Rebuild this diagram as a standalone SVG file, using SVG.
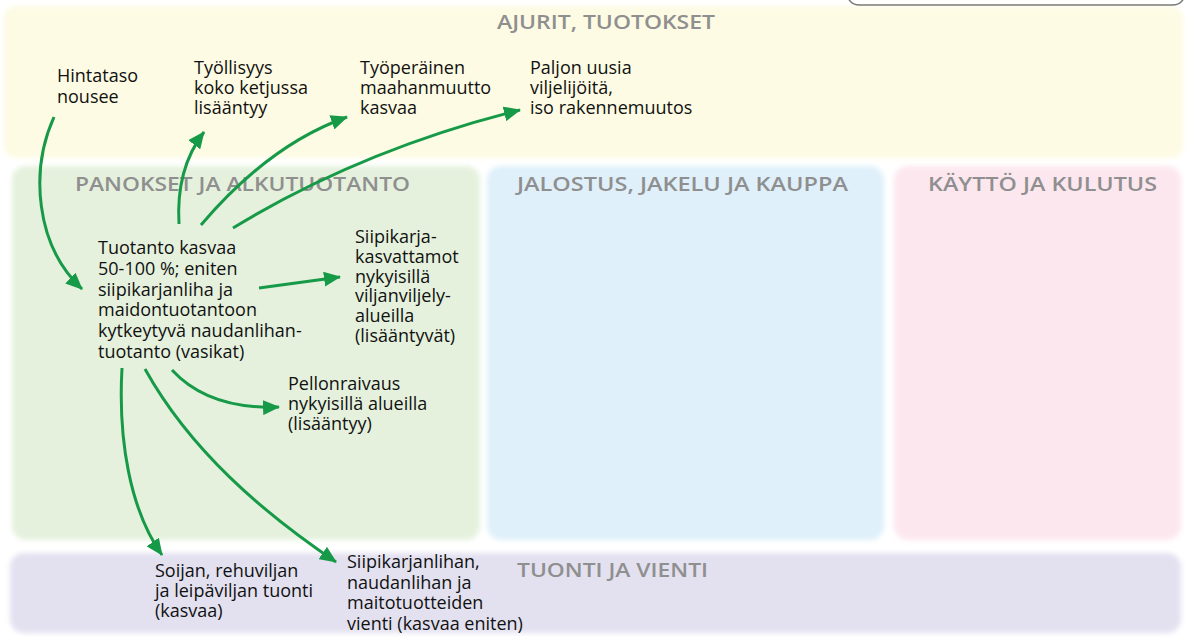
<svg xmlns="http://www.w3.org/2000/svg" width="1187" height="637" viewBox="0 0 1187 637">
  <defs>
    <filter id="soft" x="-5%" y="-5%" width="110%" height="110%">
      <feGaussianBlur stdDeviation="2.5"/>
    </filter>
    <marker id="head" viewBox="0 0 17 15" markerWidth="17" markerHeight="15" refX="16" refY="7.5" orient="auto" markerUnits="userSpaceOnUse">
      <path d="M0,0 L17,7.5 L0,15 z" fill="#179a48"/>
    </marker>
    <style>
      .band { filter: url(#soft); }
      .hdr { font-family: "Open Sans", "Liberation Sans", sans-serif; font-weight: 600; font-size: 20px; fill: #8f8f8f; }
      .lbl { font-family: "Open Sans", "Liberation Sans", sans-serif; font-size: 18px; fill: #111111; }
      .arrow { fill: none; stroke: #179a48; stroke-width: 3; marker-end: url(#head); }
    </style>
  </defs>

  <rect width="1187" height="637" fill="#ffffff"/>

  <!-- swimlane backgrounds -->
  <g id="lanes">
    <rect class="band" x="4" y="6" width="1179" height="152" rx="12" fill="#fdfbe3"/>
    <rect class="band" x="12" y="166" width="468" height="374" rx="14" fill="#e5f1dd"/>
    <rect class="band" x="487" y="166" width="397" height="374" rx="14" fill="#dff0fa"/>
    <rect class="band" x="894" y="166" width="287" height="374" rx="14" fill="#fde7ef"/>
    <rect class="band" x="10" y="553" width="1171" height="80" rx="14" fill="#e3e1f0"/>
    <rect x="847" y="-30" width="338" height="35" rx="12" fill="none" stroke="#7a7a7a" stroke-width="1.5"/>
  </g>

  <!-- lane titles -->
  <g id="titles">
    <text class="hdr" x="497" y="29" textLength="218" lengthAdjust="spacingAndGlyphs">AJURIT, TUOTOKSET</text>
    <text class="hdr" x="75" y="191" textLength="335" lengthAdjust="spacingAndGlyphs">PANOKSET JA ALKUTUOTANTO</text>
    <text class="hdr" x="517" y="191" textLength="331" lengthAdjust="spacingAndGlyphs">JALOSTUS, JAKELU JA KAUPPA</text>
    <text class="hdr" x="928" y="191" textLength="229" lengthAdjust="spacingAndGlyphs">KÄYTTÖ JA KULUTUS</text>
    <text class="hdr" x="517" y="577" textLength="191" lengthAdjust="spacingAndGlyphs">TUONTI JA VIENTI</text>
  </g>

  <!-- connectors -->
  <g id="connectors">
    <path class="arrow" d="M54 117 C30 170, 35 245, 82 289"/>
    <path class="arrow" d="M179 224 C177 190, 184 158, 204 132"/>
    <path class="arrow" d="M201 225 C235 185, 282 140, 347 117"/>
    <path class="arrow" d="M233 228 C320 175, 420 135, 520 110"/>
    <path class="arrow" d="M259 288 L340 277"/>
    <path class="arrow" d="M172 370 C195 395, 228 409, 279 407"/>
    <path class="arrow" d="M122 368 C118 440, 130 510, 162 555"/>
    <path class="arrow" d="M145 369 C190 450, 262 512, 336 562"/>
  </g>

  <!-- nodes -->
  <g id="hintataso">
    <text class="lbl" x="57" y="82"><tspan x="57">Hintataso</tspan><tspan x="57" dy="21">nousee</tspan></text>
  </g>
  <g id="tyollisyys">
    <text class="lbl" x="194" y="74"><tspan x="194">Työllisyys</tspan><tspan x="194" dy="20">koko ketjussa</tspan><tspan x="194" dy="20">lisääntyy</tspan></text>
  </g>
  <g id="maahanmuutto">
    <text class="lbl" x="360" y="74"><tspan x="360">Työperäinen</tspan><tspan x="360" dy="20">maahanmuutto</tspan><tspan x="360" dy="20">kasvaa</tspan></text>
  </g>
  <g id="rakennemuutos">
    <text class="lbl" x="530" y="74"><tspan x="530">Paljon uusia</tspan><tspan x="530" dy="20">viljelijöitä,</tspan><tspan x="530" dy="20">iso rakennemuutos</tspan></text>
  </g>
  <g id="tuotanto">
    <text class="lbl" x="98" y="254"><tspan x="98">Tuotanto kasvaa</tspan><tspan x="98" dy="20.8">50-100 %; eniten</tspan><tspan x="98" dy="20.8">siipikarjanliha ja</tspan><tspan x="98" dy="20.8">maidontuotantoon</tspan><tspan x="98" dy="20.8">kytkeytyvä naudanlihan-</tspan><tspan x="98" dy="20.8">tuotanto (vasikat)</tspan></text>
  </g>
  <g id="kasvattamot">
    <text class="lbl" x="355" y="243"><tspan x="355">Siipikarja-</tspan><tspan x="355" dy="19.8">kasvattamot</tspan><tspan x="355" dy="19.8">nykyisillä</tspan><tspan x="355" dy="19.8">viljanviljely-</tspan><tspan x="355" dy="19.8">alueilla</tspan><tspan x="355" dy="19.8">(lisääntyvät)</tspan></text>
  </g>
  <g id="pellonraivaus">
    <text class="lbl" x="288" y="390"><tspan x="288">Pellonraivaus</tspan><tspan x="288" dy="20">nykyisillä alueilla</tspan><tspan x="288" dy="20">(lisääntyy)</tspan></text>
  </g>
  <g id="tuonti">
    <text class="lbl" x="155" y="577"><tspan x="155">Soijan, rehuviljan</tspan><tspan x="155" dy="20">ja leipäviljan tuonti</tspan><tspan x="155" dy="20">(kasvaa)</tspan></text>
  </g>
  <g id="vienti">
    <text class="lbl" x="347" y="568"><tspan x="347">Siipikarjanlihan,</tspan><tspan x="347" dy="20.5">naudanlihan ja</tspan><tspan x="347" dy="20.5">maitotuotteiden</tspan><tspan x="347" dy="20.5">vienti (kasvaa eniten)</tspan></text>
  </g>
</svg>
